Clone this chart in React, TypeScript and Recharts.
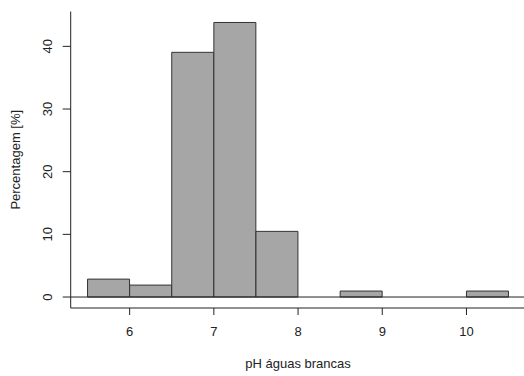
import React from "react";
import { ComposedChart, Bar, XAxis, YAxis, ReferenceLine, Label } from "recharts";

// Histogram bins (pH, width 0.5) — bin midpoints and percentage of samples
const binMids = [5.75, 6.25, 6.75, 7.25, 7.75, 8.25, 8.75, 9.25, 9.75, 10.25];
const percentages = [2.857, 1.905, 39.048, 43.81, 10.476, 0, 0.952, 0, 0, 0.952];
const xTicks = [6, 7, 8, 9, 10];
const yTicks = [0, 10, 20, 30, 40];
const xTitle = "pH águas brancas";
const yTitle = "Percentagem [%]";

const data = binMids.map((m, i) => ({ mid: m, pct: percentages[i] }));

const FONT = "'Liberation Sans', Arial, Helvetica, sans-serif";
const INK = "#222";

const XTick = (props: any) => {
  const { x, y, payload } = props;
  return (
    <text x={x} y={y + 19} textAnchor="middle" fontFamily={FONT} fontSize={13} fill={INK}>
      {payload.value}
    </text>
  );
};

const YTick = (props: any) => {
  const { x, y, payload } = props;
  return (
    <text
      transform={`translate(${x - 9},${y}) rotate(-90)`}
      textAnchor="middle"
      fontFamily={FONT}
      fontSize={13}
      fill={INK}
    >
      {payload.value}
    </text>
  );
};

export default function App() {
  return (
    <div style={{ position: "absolute", left: 0, top: 0, width: 524, height: 376, overflow: "hidden", background: "#fff" }}>
      <ComposedChart
        width={527}
        height={376}
        data={data}
        margin={{ top: 11.5, right: 1.6, left: 0, bottom: 0 }}
        barCategoryGap={0}
        barGap={0}
      >
        <XAxis
          xAxisId="top"
          orientation="top"
          dataKey="mid"
          type="number"
          domain={[5.3, 10.7]}
          tick={false}
          tickLine={false}
          height={0}
          axisLine={{ stroke: INK, strokeWidth: 1 }}
        />
        <XAxis
          dataKey="mid"
          type="number"
          domain={[5.3, 10.7]}
          ticks={xTicks}
          allowDataOverflow
          tickSize={7}
          tickMargin={2}
          tick={<XTick />}
          tickLine={{ stroke: INK }}
          axisLine={{ stroke: INK, strokeWidth: 1 }}
          height={68}
          interval={0}
        >
          <Label
            content={(p: any) => {
              const vb = p.viewBox;
              return (
                <text x={vb.x + vb.width / 2} y={vb.y + 59.5} textAnchor="middle" fontFamily={FONT} fontSize={13} fill={INK}>
                  {xTitle}
                </text>
              );
            }}
          />
        </XAxis>
        <YAxis
          type="number"
          domain={[-1.7524, 45.562]}
          ticks={yTicks}
          allowDataOverflow
          width={70.7}
          tickSize={8}
          tickMargin={2}
          tick={<YTick />}
          tickLine={{ stroke: INK }}
          axisLine={{ stroke: INK, strokeWidth: 1 }}
          interval={0}
        >
          <Label
            content={(p: any) => {
              const vb = p.viewBox;
              const cy = vb.y + vb.height / 2;
              return (
                <text
                  transform={`translate(20,${cy}) rotate(-90)`}
                  textAnchor="middle"
                  fontFamily={FONT}
                  fontSize={13}
                  fill={INK}
                >
                  {yTitle}
                </text>
              );
            }}
          />
        </YAxis>
        <ReferenceLine y={0} stroke={INK} strokeWidth={1} />
        <Bar dataKey="pct" fill="#a6a6a6" stroke="#333" strokeWidth={1} isAnimationActive={false} />
      </ComposedChart>
    </div>
  );
}
